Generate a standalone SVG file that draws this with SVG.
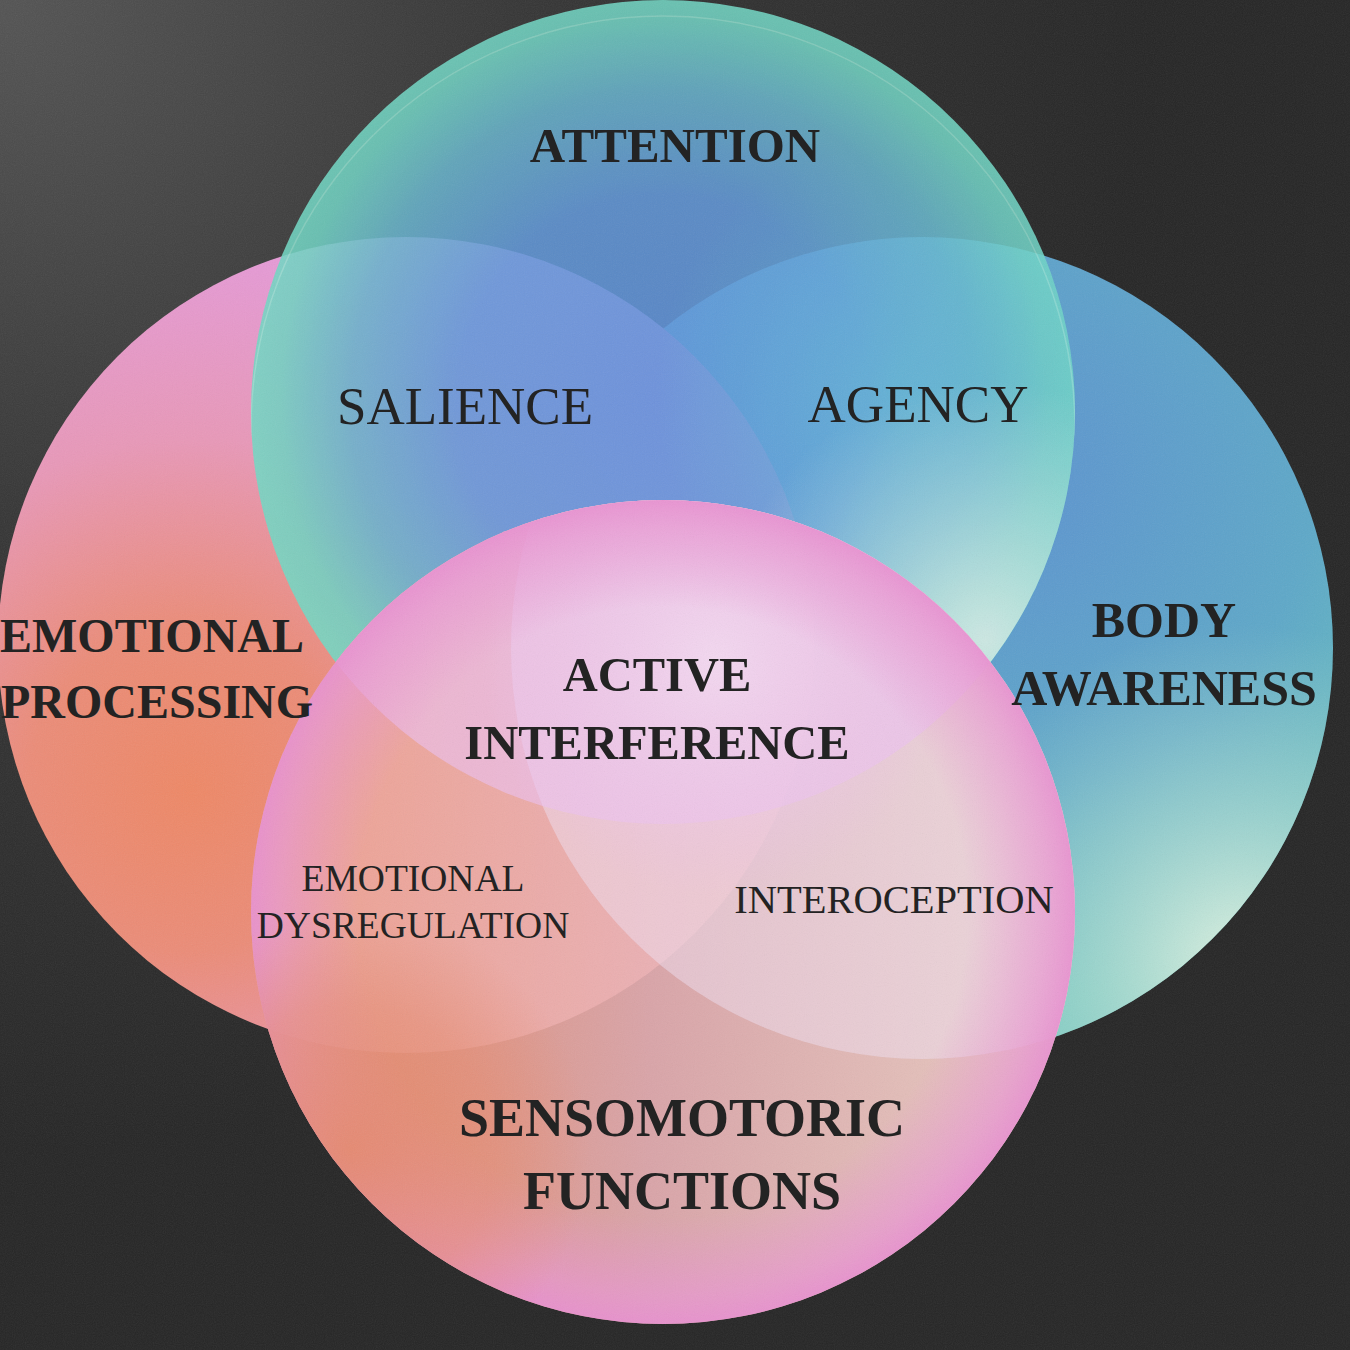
<svg xmlns="http://www.w3.org/2000/svg" width="1350" height="1350" viewBox="0 0 1350 1350">
  <defs>
    <radialGradient id="bg" gradientUnits="userSpaceOnUse" cx="0" cy="0" r="1150">
      <stop offset="0" stop-color="#545454"/>
      <stop offset="0.45" stop-color="#363636"/>
      <stop offset="1" stop-color="#262626"/>
    </radialGradient>
    <radialGradient id="gL1" gradientUnits="userSpaceOnUse" cx="190" cy="790" r="540">
      <stop offset="0" stop-color="#ee8866"/>
      <stop offset="0.3" stop-color="#eb8c78"/>
      <stop offset="0.65" stop-color="#e898b8"/>
      <stop offset="1" stop-color="#e59ad6"/>
    </radialGradient>
    <radialGradient id="gR1" gradientUnits="userSpaceOnUse" cx="1000" cy="480" r="520">
      <stop offset="0" stop-color="#5d93d0"/>
      <stop offset="0.6" stop-color="#5ea8c8"/>
      <stop offset="1" stop-color="#68c4bb"/>
    </radialGradient>
    <radialGradient id="gR2" gradientUnits="userSpaceOnUse" cx="1245" cy="965" r="340">
      <stop offset="0" stop-color="#e0f2e2" stop-opacity="1"/>
      <stop offset="0.5" stop-color="#b0dcd3" stop-opacity="0.6"/>
      <stop offset="1" stop-color="#9fd3cc" stop-opacity="0"/>
    </radialGradient>
    <radialGradient id="gT1" gradientUnits="userSpaceOnUse" cx="663" cy="400" r="412">
      <stop offset="0" stop-color="#5e92dc"/>
      <stop offset="0.5" stop-color="#6198da"/>
      <stop offset="0.76" stop-color="#67b3cc"/>
      <stop offset="0.93" stop-color="#70d2c2"/>
      <stop offset="1" stop-color="#72d8c4"/>
    </radialGradient>
    <radialGradient id="gT3" gradientUnits="userSpaceOnUse" cx="905" cy="390" r="250">
      <stop offset="0" stop-color="#66c2d6" stop-opacity="0.65"/>
      <stop offset="1" stop-color="#66c2d6" stop-opacity="0"/>
    </radialGradient>
    <radialGradient id="gT2" gradientUnits="userSpaceOnUse" cx="985" cy="640" r="260">
      <stop offset="0" stop-color="#dcf2e6" stop-opacity="1"/>
      <stop offset="1" stop-color="#c8ece0" stop-opacity="0"/>
    </radialGradient>
    <linearGradient id="gBlin" gradientUnits="userSpaceOnUse" x1="300" y1="0" x2="1000" y2="0">
      <stop offset="0" stop-color="#e08a6c"/>
      <stop offset="0.5" stop-color="#d9a4a8"/>
      <stop offset="1" stop-color="#e6c6be"/>
    </linearGradient>
    <radialGradient id="gBor" gradientUnits="userSpaceOnUse" cx="350" cy="1150" r="240">
      <stop offset="0" stop-color="#e5896a" stop-opacity="0.9"/>
      <stop offset="0.6" stop-color="#e68d74" stop-opacity="0.6"/>
      <stop offset="1" stop-color="#e6907a" stop-opacity="0"/>
    </radialGradient>
    <radialGradient id="gBlav" gradientUnits="userSpaceOnUse" cx="715" cy="660" r="235">
      <stop offset="0" stop-color="#f3d8f0" stop-opacity="1"/>
      <stop offset="0.5" stop-color="#efcbea" stop-opacity="0.6"/>
      <stop offset="1" stop-color="#ecbfe6" stop-opacity="0"/>
    </radialGradient>
    <radialGradient id="gBrim" gradientUnits="userSpaceOnUse" cx="663" cy="912" r="412">
      <stop offset="0" stop-color="#e996d2" stop-opacity="0"/>
      <stop offset="0.74" stop-color="#e996d2" stop-opacity="0"/>
      <stop offset="0.93" stop-color="#e996d2" stop-opacity="0.7"/>
      <stop offset="1" stop-color="#e890d0" stop-opacity="0.92"/>
    </radialGradient>
    <clipPath id="clipT"><circle cx="663" cy="412" r="412"/></clipPath>
    <clipPath id="clipB"><circle cx="663" cy="912" r="412"/></clipPath>
    <filter id="grain" x="0" y="0" width="100%" height="100%">
      <feTurbulence type="fractalNoise" baseFrequency="0.9" numOctaves="2" seed="3" result="n"/>
      <feColorMatrix type="saturate" values="0"/>
    </filter>
  </defs>
  <style>
    text { font-family: "Liberation Serif", "Times New Roman", serif; fill: #232323; text-anchor: middle; }
    .b { font-weight: bold; }
  </style>

  <rect width="1350" height="1350" fill="url(#bg)"/>

  <g id="node-body-awareness">
    <circle cx="922" cy="648" r="411" fill="url(#gR1)"/>
    <circle cx="922" cy="648" r="411" fill="url(#gR2)"/>
  </g>
  <g id="node-emotional-processing">
    <circle cx="406" cy="645" r="408" fill="url(#gL1)"/>
  </g>
  <g id="node-attention" opacity="0.88">
    <circle cx="663" cy="412" r="412" fill="url(#gT1)"/>
    <circle cx="663" cy="412" r="412" fill="url(#gT3)"/>
    <circle cx="663" cy="412" r="412" fill="url(#gT2)"/>
    <circle cx="663" cy="428" r="412" fill="none" stroke="#c8f5e4" stroke-opacity="0.35" stroke-width="1.5" clip-path="url(#clipT)"/>
  </g>
  <g id="node-sensomotoric-functions">
    <circle cx="663" cy="912" r="412" fill="url(#gBlin)"/>
    <g clip-path="url(#clipB)">
      <circle cx="406" cy="645" r="408" fill="#ffbec0" opacity="0.45"/>
      <circle cx="922" cy="648" r="411" fill="#efe0f2" opacity="0.5"/>
      <circle cx="663" cy="412" r="412" fill="#ecc2f4" opacity="0.6"/>
    </g>
    <circle cx="663" cy="912" r="412" fill="url(#gBlav)"/>
    <circle cx="663" cy="912" r="412" fill="url(#gBrim)"/>
    <circle cx="663" cy="912" r="412" fill="url(#gBor)"/>
  </g>

  <rect width="1350" height="1350" filter="url(#grain)" opacity="0.09"/>

  <g id="connectors"/>

  <g id="labels">
    <g id="label-attention"><text class="b" x="675" y="162" font-size="49">ATTENTION</text></g>
    <g id="label-salience"><text x="465" y="424" font-size="53">SALIENCE</text></g>
    <g id="label-agency"><text x="918" y="422" font-size="53">AGENCY</text></g>
    <g id="label-emotional-processing">
      <text class="b" x="0" y="652" font-size="48" style="text-anchor:start">EMOTIONAL</text>
      <text class="b" x="1" y="718" font-size="48" style="text-anchor:start">PROCESSING</text>
    </g>
    <g id="label-body-awareness">
      <text class="b" x="1164" y="637" font-size="50">BODY</text>
      <text class="b" x="1164" y="705" font-size="50">AWARENESS</text>
    </g>
    <g id="label-active-interference">
      <text class="b" x="657" y="691" font-size="48.5">ACTIVE</text>
      <text class="b" x="657" y="759" font-size="48.5">INTERFERENCE</text>
    </g>
    <g id="label-emotional-dysregulation">
      <text x="413" y="891" font-size="37.5">EMOTIONAL</text>
      <text x="413" y="938" font-size="37.5">DYSREGULATION</text>
    </g>
    <g id="label-interoception"><text x="894" y="913" font-size="40.5">INTEROCEPTION</text></g>
    <g id="label-sensomotoric-functions">
      <text class="b" x="682" y="1136" font-size="54">SENSOMOTORIC</text>
      <text class="b" x="682" y="1209" font-size="54">FUNCTIONS</text>
    </g>
  </g>
</svg>
